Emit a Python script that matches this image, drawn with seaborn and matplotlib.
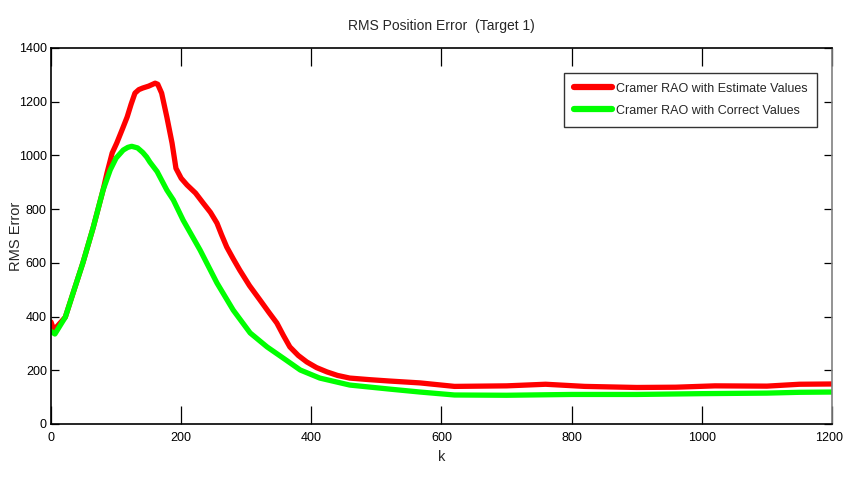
import numpy as np
import pandas as pd
import matplotlib
matplotlib.use("Agg")
import matplotlib.pyplot as plt
import matplotlib.transforms as mtransforms
import seaborn as sns
from matplotlib import font_manager

# ---- data ----
k_est = [0, 4, 10, 22, 34, 49, 65, 80, 86, 94, 101, 110, 117, 123, 129, 135, 141,
         150, 160, 164, 170, 178, 186, 192, 200, 209, 222, 234, 245, 255, 262, 270,
         280, 290, 305, 321, 335, 347, 357, 367, 380, 393, 408, 424, 440, 459, 490,
         520, 567, 620, 700, 760, 820, 900, 960, 1020, 1100, 1150, 1200]
rms_est = [380, 352, 365, 398, 488, 600, 733, 871, 934, 1009, 1046, 1100, 1143, 1190,
           1232, 1245, 1251, 1258, 1269, 1265, 1232, 1143, 1046, 952, 915, 890, 860,
           822, 788, 748, 705, 659, 615, 573, 515, 462, 415, 376, 330, 287, 255, 231,
           210, 194, 181, 171, 165, 160, 153, 140, 142, 148, 140, 136, 137, 142, 141,
           148, 149]

k_cor = [0, 6, 22, 34, 49, 65, 80, 91, 100, 111, 118, 124, 133, 141, 147, 152, 163,
         178, 188, 203, 229, 255, 280, 306, 332, 360, 383, 413, 459, 520, 567, 620,
         700, 800, 900, 1000, 1100, 1150, 1200]
rms_cor = [345, 335, 398, 488, 600, 733, 871, 946, 990, 1020, 1030, 1034, 1028, 1011,
           994, 975, 940, 871, 834, 759, 648, 525, 424, 339, 287, 240, 201, 171, 145,
           130, 119, 108, 107, 110, 110, 113, 115, 118, 119]

series_names = ["Cramer RAO with Estimate Values", "Cramer RAO with Correct Values"]
x_ticks = [0, 200, 400, 600, 800, 1000, 1200]
y_ticks = [0, 200, 400, 600, 800, 1000, 1200, 1400]

df = pd.concat([
    pd.DataFrame({"k": k_est, "RMS": rms_est, "series": series_names[0]}),
    pd.DataFrame({"k": k_cor, "RMS": rms_cor, "series": series_names[1]}),
])

sns.set_theme(style="white")
names = {f.name for f in font_manager.fontManager.ttflist}
narrow = "Liberation Sans Narrow" if "Liberation Sans Narrow" in names else "Liberation Sans"
plt.rcParams["font.family"] = [narrow, "DejaVu Sans"]

fig = plt.figure(figsize=(8.45, 4.8), dpi=100)
ax = fig.add_axes([51 / 845, 1 - 424 / 480, 781 / 845, 376 / 480])

sns.lineplot(data=df, x="k", y="RMS", hue="series", sort=False,
             palette={series_names[0]: "#ff0000", series_names[1]: "#00ff00"},
             linewidth=3.8, ax=ax, estimator=None)

ax.set_xlim(0, 1200)
ax.set_ylim(0, 1400)
ax.set_xticks(x_ticks)
ax.set_yticks(y_ticks)
ax.set_xticklabels([str(v) for v in x_ticks], fontsize=9)
ax.set_yticklabels([str(v) for v in y_ticks], fontsize=9)
ax.tick_params(axis="x", direction="in", length=13, width=0.9, top=True,
               bottom=True, colors="black", pad=6)
ax.tick_params(axis="y", direction="in", length=6, width=0.9, left=True,
               right=True, colors="black", pad=3)
# nudge the last x tick label so it stays inside the canvas
last = ax.get_xticklabels()[-1]
last.set_transform(last.get_transform() +
                   mtransforms.ScaledTranslation(-3 / 100, 0, fig.dpi_scale_trans))

for s in ax.spines.values():
    s.set_color("black")
    s.set_linewidth(1.2)
ax.spines["right"].set_color("#808080")

ax.set_xlabel("k", fontsize=10.5, labelpad=4)
ax.set_ylabel("RMS Error", fontsize=10.5, va="center",
              family=["Liberation Sans", "DejaVu Sans"])
ax.yaxis.set_label_coords(-35 / 781, 0.5)
ax.set_title("RMS Position Error  (Target 1)", fontsize=10, pad=13)

leg = ax.legend(loc="upper right", bbox_to_anchor=(0.981, 0.934), fontsize=9,
                frameon=True, fancybox=False, handlelength=3.0, handletextpad=0.3,
                borderpad=0.8, labelspacing=0.8, borderaxespad=0)
leg.get_frame().set_edgecolor("black")
leg.get_frame().set_linewidth(1.0)
for line in leg.get_lines():
    line.set_linewidth(4.5)

fig.savefig("out.png", dpi=100, facecolor="white")
